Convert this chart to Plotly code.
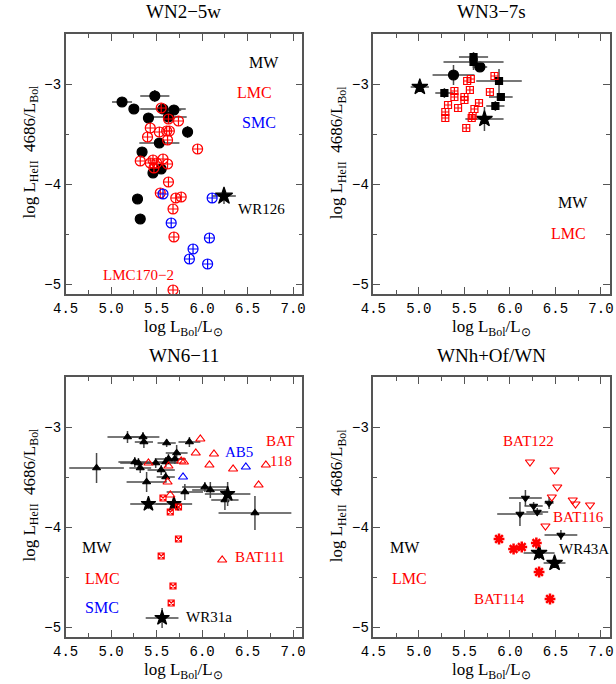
import plotly.graph_objects as go

# ---------------- Panel 1: WN2-5w ----------------
p1_mw_x = [5.12, 5.48, 5.25, 5.57, 5.69, 5.41, 5.63, 5.84, 5.53, 5.34, 5.46, 5.55, 5.29, 5.32]
p1_mw_y = [-3.18, -3.12, -3.25, -3.25, -3.26, -3.34, -3.33, -3.48, -3.59, -3.68, -3.89, -3.85, -4.15, -4.35]
p1_mw_xe = [0.11, 0.16, 0.05, 0.25, 0.08, 0.05, 0.2, 0.05, 0.22, 0.05, 0.05, 0.05, 0.0, 0.0]
p1_mw_ye = [0.04, 0.06, 0.04, 0.04, 0.04, 0.04, 0.04, 0.06, 0.05, 0.04, 0.04, 0.04, 0.0, 0.0]
p1_star_x = [6.24]
p1_star_y = [-4.12]
p1_star_xe = [0.13]
p1_star_ye = [0.08]
p1_lmc_x = [5.55, 5.63, 5.74, 5.43, 5.53, 5.61, 5.64, 5.40, 5.62, 5.95, 5.32, 5.43, 5.46, 5.50,
            5.57, 5.62, 5.47, 5.63, 5.54, 5.71, 5.77, 5.68, 5.69, 5.68]
p1_lmc_y = [-3.24, -3.35, -3.37, -3.44, -3.48, -3.47, -3.47, -3.53, -3.56, -3.65, -3.77, -3.79, -3.76, -3.79,
            -3.75, -3.80, -3.84, -3.98, -4.09, -4.14, -4.13, -4.25, -4.53, -5.06]
p1_smc_x = [5.57, 6.11, 5.66, 6.08, 5.90, 5.86, 6.06]
p1_smc_y = [-4.10, -4.14, -4.39, -4.54, -4.65, -4.75, -4.80]

# ---------------- Panel 2: WN3-7s ----------------
p2_mw_circ_x = [5.38, 5.67]
p2_mw_circ_y = [-2.91, -2.83]
p2_mw_circ_xe = [0.23, 0.08]
p2_mw_circ_ye = [0.1, 0.04]
p2_mw_sq_x = [5.28, 5.60, 5.60, 5.88, 5.90, 5.84]
p2_mw_sq_y = [-3.09, -2.73, -2.78, -2.97, -3.13, -3.22]
p2_mw_sq_xe = [0.1, 0.16, 0.33, 0.25, 0.13, 0.1]
p2_mw_sq_ye = [0.05, 0.05, 0.08, 0.12, 0.04, 0.05]
p2_mw_star_x = [5.01, 5.72]
p2_mw_star_y = [-3.03, -3.35]
p2_mw_star_xe = [0.1, 0.21]
p2_mw_star_ye = [0.03, 0.12]
p2_lmc_x = [5.83, 5.53, 5.57, 5.56, 5.78, 5.39, 5.39, 5.50, 5.50, 5.66, 5.32, 5.43, 5.61,
            5.29, 5.29, 5.59, 5.58, 5.52]
p2_lmc_y = [-2.92, -2.97, -2.95, -3.06, -3.08, -3.07, -3.13, -3.13, -3.16, -3.19, -3.21, -3.24, -3.25,
            -3.28, -3.34, -3.32, -3.34, -3.44]

# ---------------- Panel 3: WN6-11 ----------------
p3_mw_x = [5.18, 5.35, 5.36, 5.61, 5.86, 5.72, 4.84, 5.26, 5.30, 5.32, 5.49, 5.60, 5.63, 5.70,
           5.55, 5.60, 5.39, 5.81, 6.03, 6.09, 6.25, 6.58]
p3_mw_y = [-3.10, -3.10, -3.15, -3.16, -3.15, -3.26, -3.41, -3.35, -3.36, -3.41, -3.36, -3.35, -3.32, -3.32,
           -3.43, -3.50, -3.55, -3.65, -3.60, -3.63, -3.73, -3.86]
p3_mw_xe = [0.22, 0.18, 0.1, 0.1, 0.12, 0.12, 0.3, 0.18, 0.2, 0.12, 0.25, 0.12, 0.15, 0.12,
            0.15, 0.1, 0.22, 0.2, 0.25, 0.2, 0.15, 0.4]
p3_mw_ye = [0.06, 0.05, 0.06, 0.04, 0.05, 0.08, 0.15, 0.05, 0.05, 0.05, 0.05, 0.05, 0.05, 0.05,
            0.05, 0.05, 0.1, 0.08, 0.05, 0.08, 0.1, 0.17]
p3_star_x = [5.41, 5.69, 6.28, 5.56]
p3_star_y = [-3.77, -3.77, -3.67, -4.91]
p3_star_xe = [0.2, 0.2, 0.25, 0.18]
p3_star_ye = [0.05, 0.05, 0.12, 0.1]
p3_lmc_tri_x = [5.98, 5.93, 6.13, 5.41, 5.63, 5.77, 5.80, 6.08, 6.34, 6.70, 5.62, 6.62, 5.65, 6.22]
p3_lmc_tri_y = [-3.12, -3.26, -3.27, -3.36, -3.39, -3.34, -3.35, -3.38, -3.42, -3.38, -3.55, -3.58, -3.68, -4.33]
p3_lmc_sq_x = [5.57, 5.74, 5.65, 5.74, 5.55, 5.68, 5.66]
p3_lmc_sq_y = [-3.71, -3.80, -3.85, -4.12, -4.29, -4.59, -4.76]
p3_smc_x = [5.79, 6.48]
p3_smc_y = [-3.50, -3.40]

# ---------------- Panel 4: WNh+Of/WN ----------------
p4_mw_x = [6.17, 6.26, 6.30, 6.11, 6.43, 6.56]
p4_mw_y = [-3.71, -3.79, -3.85, -3.87, -3.76, -4.08]
p4_mw_xe = [0.18, 0.1, 0.12, 0.25, 0.05, 0.18]
p4_mw_ye = [0.08, 0.04, 0.04, 0.12, 0.06, 0.05]
p4_star_x = [6.32, 6.49]
p4_star_y = [-4.26, -4.36]
p4_star_xe = [0.17, 0.12]
p4_star_ye = [0.06, 0.03]
p4_lmc_tri_x = [6.22, 6.49, 6.52, 6.46, 6.69, 6.72, 6.88, 6.39]
p4_lmc_tri_y = [-3.35, -3.43, -3.60, -3.70, -3.73, -3.77, -3.78, -3.99]
p4_lmc_ast_x = [5.88, 6.04, 6.13, 6.29, 6.32, 6.44]
p4_lmc_ast_y = [-4.12, -4.22, -4.20, -4.16, -4.45, -4.72]

titles = ["WN2\u22125w", "WN3\u22127s", "WN6\u221211", "WNh+Of/WN"]

W, H = 616, 684
doms_x = [(54 / W, 297 / W), (370 / W, 613 / W)]
doms_y = [(1 - 294 / H, 1 - 34 / H), (1 - 637 / H, 1 - 377 / H)]

RED = "#ff0000"
BLUE = "#0000ff"
BLACK = "#000000"
EBC = "#4a4a4a"

fig = go.Figure()


def add(xs, ys, k, symbol, color, size, xe=None, ye=None, lw=1.2):
    ax = "" if k == 1 else str(k)
    tr = dict(x=xs, y=ys, mode="markers", xaxis="x" + ax, yaxis="y" + ax,
              marker=dict(symbol=symbol, size=size, color=color,
                          line=dict(color=color, width=lw)),
              showlegend=False, hoverinfo="skip")
    if xe is not None:
        tr["error_x"] = dict(type="data", array=xe, color=EBC, thickness=1.5, width=0)
    if ye is not None:
        tr["error_y"] = dict(type="data", array=ye, color=EBC, thickness=1.5, width=0)
    fig.add_trace(go.Scatter(**tr))


# Panel 1
add(p1_mw_x, p1_mw_y, 1, "circle", BLACK, 10, p1_mw_xe, p1_mw_ye)
add(p1_star_x, p1_star_y, 1, "star", BLACK, 13, p1_star_xe, p1_star_ye)
add(p1_lmc_x, p1_lmc_y, 1, "circle-cross-open", RED, 10)
add(p1_smc_x, p1_smc_y, 1, "circle-cross-open", BLUE, 10)
# Panel 2
add(p2_mw_circ_x, p2_mw_circ_y, 2, "circle", BLACK, 10, p2_mw_circ_xe, p2_mw_circ_ye)
add(p2_mw_sq_x, p2_mw_sq_y, 2, "square", BLACK, 7, p2_mw_sq_xe, p2_mw_sq_ye)
add(p2_mw_star_x, p2_mw_star_y, 2, "star", BLACK, 12, p2_mw_star_xe, p2_mw_star_ye)
add(p2_lmc_x, p2_lmc_y, 2, "square-cross-open", RED, 7)
# Panel 3
add(p3_mw_x, p3_mw_y, 3, "triangle-up", BLACK, 7, p3_mw_xe, p3_mw_ye)
add(p3_star_x, p3_star_y, 3, "star", BLACK, 11, p3_star_xe, p3_star_ye)
add(p3_lmc_tri_x, p3_lmc_tri_y, 3, "triangle-up-open", RED, 8)
add(p3_lmc_sq_x, p3_lmc_sq_y, 3, "square-x-open", RED, 6)
add(p3_smc_x, p3_smc_y, 3, "triangle-up-open", BLUE, 8)
# Panel 4
add(p4_mw_x, p4_mw_y, 4, "triangle-down", BLACK, 7, p4_mw_xe, p4_mw_ye)
add(p4_star_x, p4_star_y, 4, "star", BLACK, 12, p4_star_xe, p4_star_ye)
add(p4_lmc_tri_x, p4_lmc_tri_y, 4, "triangle-down-open", RED, 8)
add(p4_lmc_ast_x, p4_lmc_ast_y, 4, "asterisk-open", RED, 9, lw=2.5)

SERIF = "Liberation Serif"
MONO = "Liberation Mono"

axis_common = dict(showline=True, linecolor="#555555", linewidth=1.5, mirror="ticks",
                   ticks="inside", tickcolor="#555555", tickwidth=1.3, ticklen=7,
                   showgrid=False, zeroline=False,
                   tickfont=dict(family=MONO, size=14, color="black"))

layout = dict(width=W, height=H, margin=dict(l=0, r=0, t=0, b=0),
              plot_bgcolor="white", paper_bgcolor="white")

for k in range(1, 5):
    col = (k - 1) % 2
    row = (k - 1) // 2
    ax = "" if k == 1 else str(k)
    layout["xaxis" + ax] = dict(axis_common, domain=list(doms_x[col]), range=[4.5, 7.1],
                                anchor="y" + ax, tickmode="linear", tick0=4.5, dtick=0.5,
                                tickformat=".1f",
                                minor=dict(ticks="inside", dtick=0.25, ticklen=4,
                                           tickcolor="#555555", tickwidth=1.3))
    layout["yaxis" + ax] = dict(axis_common, domain=list(doms_y[row]), range=[-5.1, -2.5],
                                anchor="x" + ax, tickmode="linear", tick0=-5, dtick=1,
                                minor=dict(ticks="inside", dtick=0.5, ticklen=4,
                                           tickcolor="#555555", tickwidth=1.3))

fig.update_layout(**layout)

ann = []
for k, t in enumerate(titles):
    col = k % 2
    row = k // 2
    xc = (doms_x[col][0] + doms_x[col][1]) / 2
    ann.append(dict(text=t, x=xc, y=doms_y[row][1] + 22 / H, xref="paper", yref="paper",
                    showarrow=False, font=dict(family=SERIF, size=19, color="black"),
                    xanchor="center", yanchor="middle"))
    ann.append(dict(text="log L<sub>Bol</sub>/L<sub>\u2299</sub>", x=xc,
                    y=doms_y[row][0] - 34 / H, xref="paper", yref="paper", showarrow=False,
                    font=dict(family=SERIF, size=17, color="black"),
                    xanchor="center", yanchor="middle"))
    yc = (doms_y[row][0] + doms_y[row][1]) / 2 + 12 / H
    ann.append(dict(text="log L<sub>HeII</sub>  4686/L<sub>Bol</sub>",
                    x=doms_x[col][0] - 36 / W, y=yc, xref="paper", yref="paper",
                    showarrow=False, textangle=-90,
                    font=dict(family=SERIF, size=17, color="black"),
                    xanchor="center", yanchor="middle"))


def lab(text, x, y, k, color, size=16, xanchor="center"):
    ax = "" if k == 1 else str(k)
    ann.append(dict(text=text, x=x, y=y, xref="x" + ax, yref="y" + ax, showarrow=False,
                    font=dict(family=SERIF, size=size, color=color), xanchor=xanchor,
                    yanchor="middle"))


lab("MW", 6.68, -2.79, 1, BLACK)
lab("LMC", 6.58, -3.09, 1, RED)
lab("SMC", 6.62, -3.39, 1, BLUE)
lab("WR126", 6.65, -4.25, 1, BLACK, 15)
lab("LMC170\u22122", 5.3, -4.91, 1, RED, 15)
lab("MW", 6.69, -4.19, 2, BLACK)
lab("LMC", 6.64, -4.50, 2, RED)
lab("AB5", 6.41, -3.25, 3, BLUE, 15)
lab("BAT", 6.86, -3.14, 3, RED, 15)
lab("118", 6.87, -3.34, 3, RED, 15)
lab("BAT111", 6.64, -4.30, 3, RED, 15)
lab("WR31a", 6.07, -4.90, 3, BLACK, 15)
lab("MW", 4.85, -4.20, 3, BLACK)
lab("LMC", 4.9, -4.51, 3, RED)
lab("SMC", 4.9, -4.80, 3, BLUE)
lab("BAT122", 6.2, -3.14, 4, RED, 15)
lab("BAT116", 6.75, -3.90, 4, RED, 15)
lab("WR43A", 6.81, -4.22, 4, BLACK, 15)
lab("BAT114", 5.88, -4.72, 4, RED, 15)
lab("MW", 4.85, -4.20, 4, BLACK)
lab("LMC", 4.9, -4.51, 4, RED)

fig.update_layout(annotations=ann)
fig.write_html("out.html")
